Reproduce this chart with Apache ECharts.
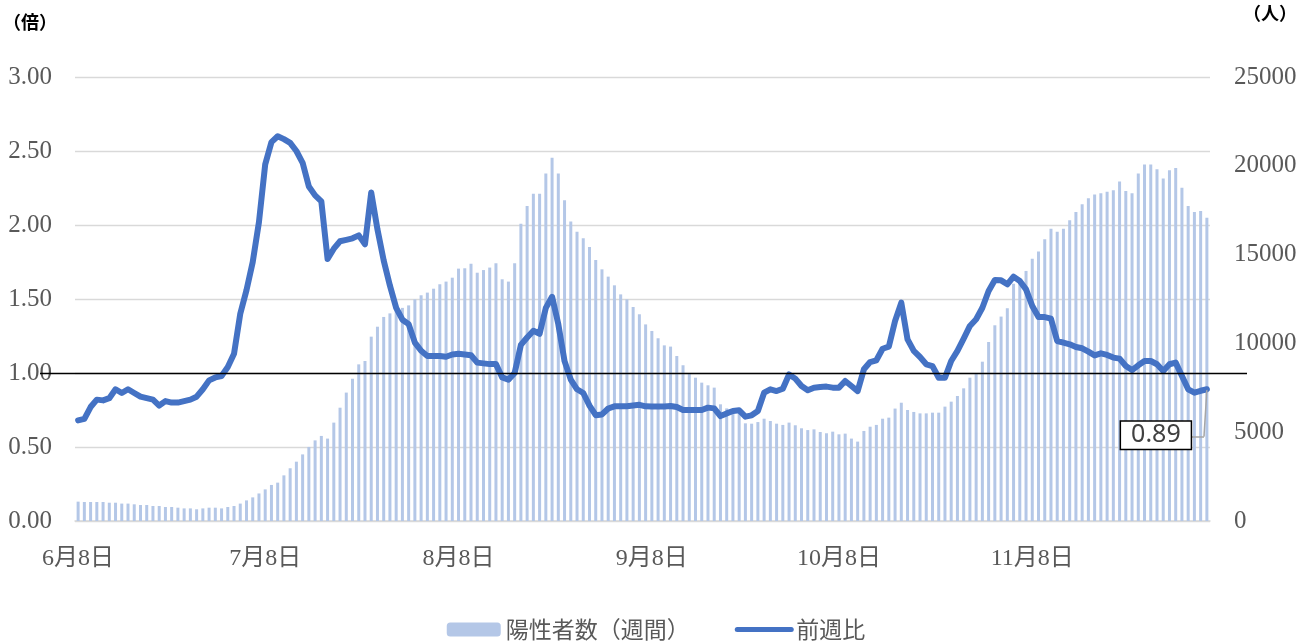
<!DOCTYPE html>
<html>
<head>
<meta charset="utf-8">
<title>陽性者数と前週比</title>
<script src="https://cdn.jsdelivr.net/npm/echarts@6/dist/echarts.min.js"></script>
<style>
  html, body { margin: 0; padding: 0; background: #fff; }
  #main { width: 1312px; height: 641px; }
</style>
</head>
<body>
<div id="main"></div>
<script>
// daily categories, 6月8日 .. 12月6日
const firstMonth = 6;
const firstDay = 8;
const dayCount = 182;
const monthLengths = { 6: 30, 7: 31, 8: 31, 9: 30, 10: 31, 11: 30, 12: 31 };

const dates = [];
for (let m = firstMonth, d = firstDay; dates.length < dayCount; ) {
  dates.push(m + '月' + d + '日');
  d++;
  if (d > monthLengths[m]) { d = 1; m++; }
}

// 陽性者数（週間） (人)
const weeklyCases = [
  1090, 1070, 1070, 1070, 1070, 1030, 1030, 980, 980, 940,
  900, 900, 845, 845, 790, 790, 750, 710, 710, 660,
  710, 750, 750, 710, 790, 845, 980, 1160, 1330, 1550,
  1780, 2030, 2160, 2570, 2970, 3340, 3750, 4170, 4540, 4790,
  4640, 5540, 6380, 7230, 8010, 8820, 9010, 10380, 10940, 11490,
  11690, 12070, 12000, 12140, 12480, 12710, 12860, 13080, 13330, 13480,
  13700, 14210, 14230, 14490, 13980, 14130, 14270, 14510, 13610, 13480,
  14510, 16740, 17740, 18430, 18430, 19560, 20460, 19560, 18060, 16860,
  16290, 15920, 15430, 14700, 14170, 13760, 13270, 12760, 12480, 12050,
  11640, 11070, 10700, 10290, 9890, 9820, 9290, 8770, 8320, 8070,
  7790, 7640, 7510, 6570, 6340, 6290, 6190, 5500, 5480, 5570,
  5760, 5630, 5480, 5410, 5540, 5390, 5220, 5120, 5160, 5010,
  4940, 5030, 4880, 4920, 4640, 4470, 5070, 5310, 5410, 5760,
  5820, 6330, 6660, 6250, 6140, 6060, 6060, 6100, 6100, 6440,
  6720, 7040, 7470, 8070, 8320, 8970, 10080, 11020, 11510, 11980,
  13360, 13610, 14080, 14770, 15170, 15860, 16460, 16290, 16460, 16930,
  17400, 17830, 18170, 18390, 18450, 18540, 18620, 19110, 18580, 18450,
  19560, 20080, 20080, 19800, 19280, 19750, 19880, 18770, 17740, 17400,
  17460, 17080
];

// 前週比 (倍)
const weekRatio = [
  0.68, 0.69, 0.77, 0.82, 0.815, 0.83, 0.89, 0.865, 0.89, 0.865,
  0.84, 0.83, 0.82, 0.78, 0.81, 0.80, 0.80, 0.81, 0.82, 0.84,
  0.89, 0.95, 0.97, 0.98, 1.04, 1.13, 1.40, 1.56, 1.75, 2.02,
  2.41, 2.56, 2.60, 2.58, 2.555, 2.50, 2.42, 2.26, 2.20, 2.16,
  1.77, 1.84, 1.89, 1.90, 1.91, 1.93, 1.87, 2.22, 1.97, 1.76,
  1.59, 1.44, 1.36, 1.33, 1.205, 1.15, 1.115, 1.115, 1.115, 1.11,
  1.125, 1.13, 1.125, 1.12, 1.07, 1.065, 1.06, 1.06, 0.97, 0.955,
  1.00, 1.19, 1.24, 1.285, 1.265, 1.44, 1.515, 1.33, 1.08, 0.955,
  0.89, 0.865, 0.78, 0.715, 0.72, 0.76, 0.775, 0.775, 0.775, 0.78,
  0.785, 0.775, 0.773, 0.773, 0.773, 0.777, 0.77, 0.75, 0.75, 0.75,
  0.75, 0.766, 0.761, 0.709, 0.727, 0.743, 0.748, 0.705, 0.714, 0.743,
  0.867, 0.89, 0.878, 0.894, 0.99, 0.962, 0.912, 0.883, 0.901, 0.905,
  0.908, 0.901, 0.901, 0.946, 0.912, 0.878, 1.025, 1.074, 1.086, 1.164,
  1.178, 1.351, 1.475, 1.227, 1.149, 1.108, 1.059, 1.047, 0.968, 0.968,
  1.081, 1.149, 1.232, 1.318, 1.363, 1.441, 1.554, 1.628, 1.626, 1.599,
  1.651, 1.622, 1.565, 1.453, 1.378, 1.378, 1.367, 1.216, 1.205, 1.194,
  1.176, 1.167, 1.144, 1.119, 1.133, 1.122, 1.104, 1.097, 1.047, 1.02,
  1.052, 1.081, 1.081, 1.059, 1.014, 1.059, 1.07, 0.98, 0.89, 0.867,
  0.88, 0.89
];

const ratioTicks = { min: 0, max: 3, step: 0.5 };
const caseTicks = { min: 0, max: 25000, step: 5000 };
const baseRatio = 1;   // black reference line
const calloutLevel = 0.57; // where the callout leader turns

const lastIdx = weekRatio.length - 1;
const lastVal = weekRatio[lastIdx];

const gray = '#595959';
const serif = "'Liberation Serif', 'Noto Sans CJK JP', serif";
const cjk = "'Noto Sans CJK JP', sans-serif";
const isEighth = (idx, val) => /月8日$/.test(val);

var chartDom = document.getElementById('main');
var myChart = echarts.init(chartDom);
var option;

option = {
  animation: false,
  grid: { left: 75, right: 102, top: 77, bottom: 120 },
  legend: {
    data: [
      '陽性者数（週間）',
      { name: '前週比', itemStyle: { opacity: 0 } }
    ],
    left: 'center',
    top: 613,
    itemWidth: 54,
    itemHeight: 14,
    itemGap: 45,
    lineStyle: { width: 5 },
    textStyle: { fontFamily: cjk, fontSize: 23, color: gray }
  },
  xAxis: {
    type: 'category',
    data: dates,
    boundaryGap: true,
    axisLine: { lineStyle: { color: '#d9d9d9', width: 1.5 } },
    axisTick: {
      alignWithLabel: true,
      interval: isEighth,
      length: 8,
      lineStyle: { color: '#d9d9d9', width: 1.5 }
    },
    axisLabel: {
      interval: isEighth,
      margin: 26,
      fontFamily: serif,
      fontSize: 24,
      color: gray
    }
  },
  yAxis: [
    {
      type: 'value',
      min: ratioTicks.min,
      max: ratioTicks.max,
      interval: ratioTicks.step,
      name: '（倍）',
      nameLocation: 'end',
      nameGap: 46,
      nameTextStyle: {
        fontFamily: cjk, fontSize: 18, fontWeight: 'bold', color: '#000',
        align: 'right', padding: [0, 18, 0, 0]
      },
      axisLine: { show: false },
      axisTick: { show: false },
      axisLabel: {
        margin: 23,
        fontFamily: serif,
        fontSize: 25,
        color: gray,
        formatter: v => v.toFixed(2)
      },
      splitLine: { lineStyle: { color: '#d9d9d9', width: 1.3 } }
    },
    {
      type: 'value',
      min: caseTicks.min,
      max: caseTicks.max,
      interval: caseTicks.step,
      name: '（人）',
      nameLocation: 'end',
      nameGap: 55,
      nameTextStyle: {
        fontFamily: cjk, fontSize: 18, fontWeight: 'bold', color: '#000',
        align: 'left', padding: [0, 0, 0, 33]
      },
      axisLine: { show: false },
      axisTick: { show: false },
      axisLabel: {
        margin: 24,
        fontFamily: serif,
        fontSize: 25,
        color: gray,
        formatter: v => String(v)
      },
      splitLine: { show: false }
    }
  ],
  series: [
    {
      name: '陽性者数（週間）',
      type: 'bar',
      yAxisIndex: 1,
      barWidth: 3,
      itemStyle: { color: '#b4c7e7' },
      data: weeklyCases
    },
    {
      name: '前週比',
      type: 'line',
      yAxisIndex: 0,
      symbol: 'none',
      smooth: false,
      itemStyle: { color: '#4472c4' },
      lineStyle: { color: '#4472c4', width: 6, cap: 'round', join: 'round' },
      data: weekRatio,
      markLine: {
        silent: true,
        symbol: ['none', 'none'],
        label: { show: false },
        data: [
          [
            { yAxis: baseRatio, x: 40, lineStyle: { color: '#000', width: 1.3, type: 'solid' } },
            { yAxis: baseRatio, x: 1247 }
          ],
          [
            { coord: [lastIdx, lastVal], lineStyle: { color: '#a6a6a6', width: 1.5, type: 'solid' } },
            { coord: [lastIdx, calloutLevel], x: 1204 }
          ],
          [
            { coord: [lastIdx, calloutLevel], x: 1204, lineStyle: { color: '#a6a6a6', width: 1.5, type: 'solid' } },
            { coord: [lastIdx, calloutLevel], x: 1192 }
          ]
        ]
      },
      markPoint: {
        silent: true,
        symbol: 'circle',
        symbolSize: 2,
        itemStyle: { color: '#4472c4' },
        data: [{ coord: [lastIdx, lastVal], value: lastVal }],
        label: {
          show: true,
          position: 'inside',
          offset: [-51, 46],
          formatter: p => Number(p.value).toFixed(2),
          fontFamily: "'Noto Sans', sans-serif",
          fontSize: 25,
          color: '#404040',
          backgroundColor: '#fff',
          borderColor: '#000',
          borderWidth: 1.5,
          padding: [2, 10, 0, 10]
        }
      }
    }
  ]
};

option && myChart.setOption(option);
</script>
</body>
</html>
